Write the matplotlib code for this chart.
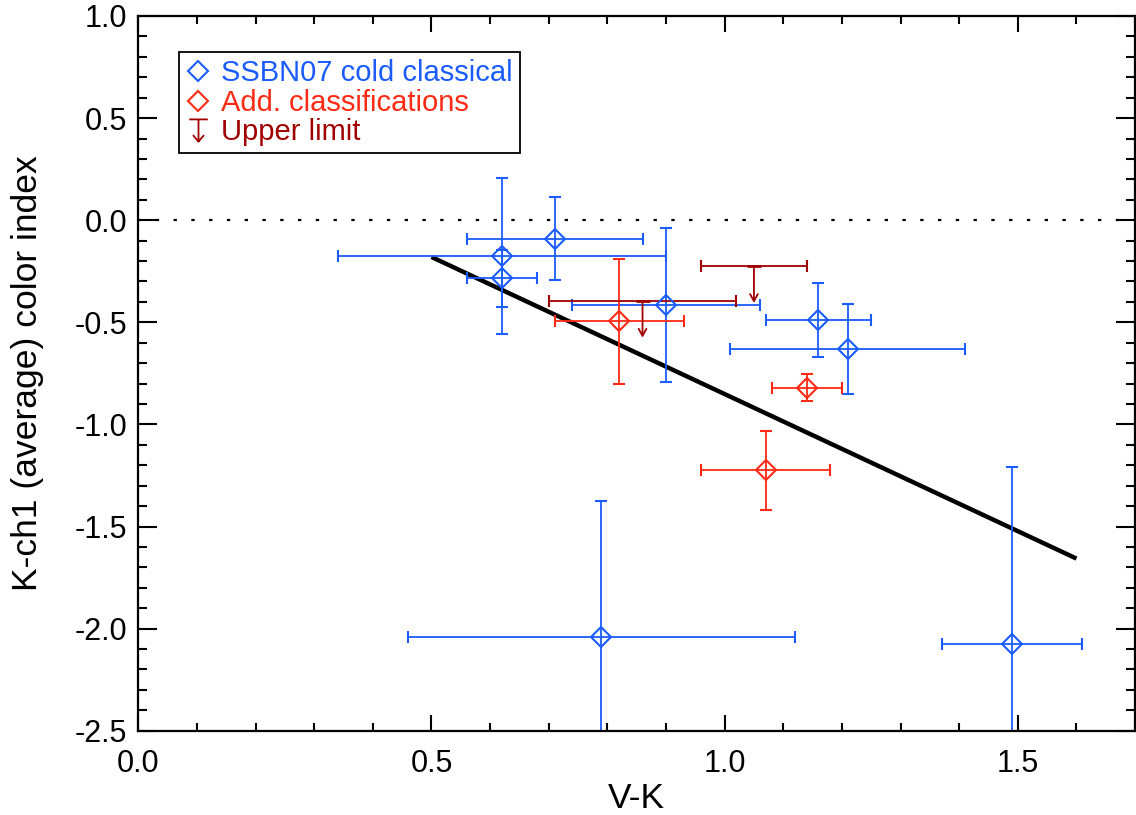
import numpy as np
import matplotlib
matplotlib.use("Agg")
import matplotlib.pyplot as plt
from matplotlib.lines import Line2D
from matplotlib.path import Path
from matplotlib.ticker import MultipleLocator

plt.rcParams["font.family"] = ["Liberation Sans", "DejaVu Sans"]
plt.rcParams["axes.unicode_minus"] = False

# SSBN07 cold classicals
blue_x = [0.62, 0.62, 0.71, 0.90, 1.16, 1.21, 0.79, 1.49]
blue_y = [-0.175, -0.285, -0.09, -0.415, -0.49, -0.63, -2.04, -2.075]
blue_xerr = [0.28, 0.06, 0.15, 0.16, 0.09, 0.20, 0.33, 0.12]
blue_yerr = [0.38, 0.14, 0.205, 0.375, 0.18, 0.22, 0.665, 0.865]

# additional classifications
red_x = [0.82, 1.14, 1.07]
red_y = [-0.495, -0.82, -1.225]
red_xerr = [0.11, 0.06, 0.11]
red_yerr = [0.305, 0.065, 0.195]

# upper limits
ul_x = [1.05, 0.86]
ul_y = [-0.225, -0.395]
ul_xerr = [0.09, 0.16]
ARROW_LEN = 0.18

# fitted line
fit_x = [0.5, 1.6]
fit_y = [-0.18, -1.657]

BLUE = "#1a5cff"
RED = "#ff2a14"
DRED = "#a00000"

fig = plt.figure(figsize=(11.36, 8.15), dpi=100)
ax = fig.add_axes([0.1217, 0.1034, 0.8775, 0.877])

ax.axhline(0.0, color="k", lw=1.6, ls=(0, (1.5, 6.5)))
ax.plot(fit_x, fit_y, "-", color="k", lw=3.2, solid_capstyle="butt")

ekw = dict(fmt="D", ms=10.5, mfc="none", mew=1.5, elinewidth=1.3,
           capsize=4, capthick=1.5)
ax.errorbar(blue_x, blue_y, xerr=blue_xerr, yerr=blue_yerr, color=BLUE, **ekw)
ax.errorbar(red_x, red_y, xerr=red_xerr, yerr=red_yerr, color=RED, **ekw)

ax.errorbar(ul_x, ul_y, xerr=ul_xerr, fmt="none", ecolor=DRED,
            elinewidth=1.3, capsize=4, capthick=1.5)
for x, y in zip(ul_x, ul_y):
    ax.plot([x], [y], marker="_", ms=10, mew=2, color=DRED)
    ax.annotate("", xy=(x, y - ARROW_LEN), xytext=(x, y),
                arrowprops=dict(arrowstyle="->,head_length=0.5,head_width=0.28",
                                color=DRED, lw=1.3, shrinkA=0, shrinkB=0))

ax.set_xlim(0, 1.7)
ax.set_ylim(-2.5, 1.0)
ax.xaxis.set_major_locator(MultipleLocator(0.5))
ax.xaxis.set_minor_locator(MultipleLocator(0.1))
ax.yaxis.set_major_locator(MultipleLocator(0.5))
ax.yaxis.set_minor_locator(MultipleLocator(0.1))
ax.tick_params(which="both", direction="in", top=True, right=True, width=1.5,
               labelsize=22)
ax.tick_params(axis="x", which="major", length=11.5, pad=13)
ax.tick_params(axis="x", which="minor", length=6)
ax.tick_params(axis="y", which="major", length=14, pad=8)
ax.tick_params(axis="y", which="minor", length=6.5)
for s in ax.spines.values():
    s.set_linewidth(1.6)

ax.set_xlabel("V-K", fontsize=25.5, labelpad=2)
ax.set_ylabel("K-ch1 (average) color index", fontsize=25.5, labelpad=22)

# legend symbol for the upper limit: bar + downward arrow
ul_path = Path([(-0.5, 0.6), (0.5, 0.6), (0, 0.6), (0, -0.6),
                (-0.3, -0.25), (0, -0.6), (0.3, -0.25)],
               [Path.MOVETO, Path.LINETO, Path.MOVETO, Path.LINETO,
                Path.MOVETO, Path.LINETO, Path.LINETO])
handles = [
    Line2D([], [], ls="none", marker="D", ms=10, mfc="none", mew=1.5, color=BLUE),
    Line2D([], [], ls="none", marker="D", ms=10, mfc="none", mew=1.5, color=RED),
    Line2D([], [], ls="none", marker=ul_path, ms=16, mfc="none", mew=1.3, color=DRED),
]
labels = ["SSBN07 cold classical", "Add. classifications", "Upper limit"]
leg = ax.legend(handles, labels, loc="upper left", bbox_to_anchor=(0.041, 0.9496),
                borderaxespad=0, fontsize=21, handlelength=0.8, handletextpad=0.4,
                labelspacing=0.05, borderpad=0.25, fancybox=False, framealpha=1)
leg.get_frame().set_edgecolor("k")
leg.get_frame().set_linewidth(1.3)
for t, c in zip(leg.get_texts(), [BLUE, RED, DRED]):
    t.set_color(c)

fig.savefig("out.png", dpi=100)
